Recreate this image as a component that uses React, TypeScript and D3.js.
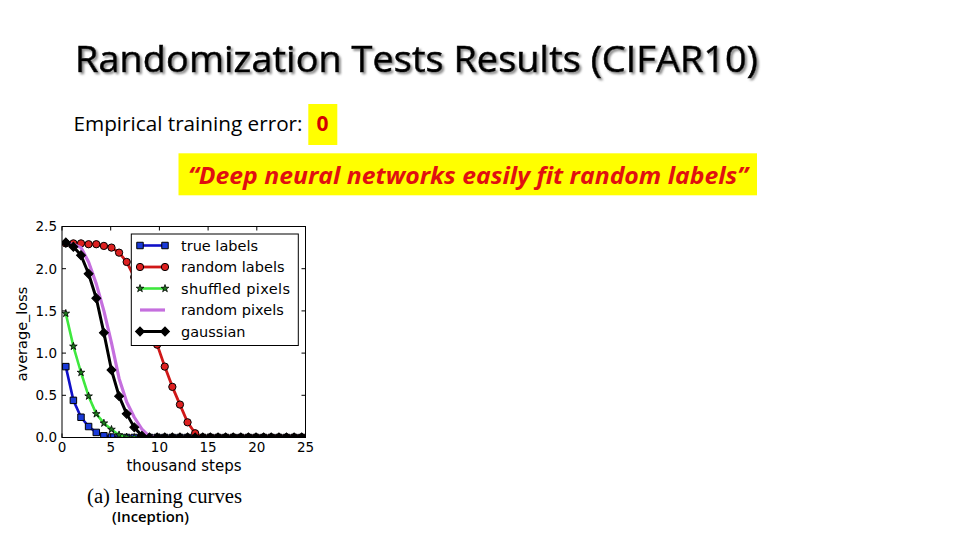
import React from "react";
import * as d3 from "d3";

// ---- data ----
const X_STEPS = [
  0.39, 1.17, 1.95, 2.73, 3.52, 4.3, 5.08, 5.86, 6.64, 7.42, 8.2, 8.98, 9.77, 10.55, 11.33, 12.11,
  12.89, 13.67, 14.45, 15.23, 16.02, 16.8, 17.58, 18.36, 19.14, 19.92, 20.7, 21.48, 22.27, 23.05, 23.83, 24.61,
];
const TRUE_LABELS = [
  0.84, 0.44, 0.24, 0.13, 0.06, 0.02, 0.005, 0.001, 0, 0, 0, 0, 0, 0, 0, 0,
  0, 0, 0, 0, 0, 0, 0, 0, 0, 0, 0, 0, 0, 0, 0, 0,
];
const RANDOM_LABELS = [
  2.3, 2.3, 2.3, 2.29, 2.29, 2.27, 2.25, 2.19, 2.08, 1.9, 1.65, 1.38, 1.1, 0.84, 0.6, 0.39,
  0.18, 0.05, 0.0, 0, 0, 0, 0, 0, 0, 0, 0, 0, 0, 0, 0, 0,
];
const SHUFFLED_PIXELS = [
  1.47, 1.08, 0.77, 0.49, 0.28, 0.17, 0.095, 0.03, 0.005, 0, 0, 0, 0, 0, 0, 0,
  0, 0, 0, 0, 0, 0, 0, 0, 0, 0, 0, 0, 0, 0, 0, 0,
];
const RANDOM_PIXELS = [
  2.3, 2.29, 2.25, 2.08, 1.82, 1.5, 1.12, 0.7, 0.42, 0.24, 0.1, 0.01, 0, 0, 0, 0,
  0, 0, 0, 0, 0, 0, 0, 0, 0, 0, 0, 0, 0, 0, 0, 0,
];
const GAUSSIAN = [
  2.31, 2.26, 2.16, 1.94, 1.65, 1.24, 0.8, 0.49, 0.28, 0.12, 0.02, 0, 0, 0, 0, 0,
  0, 0, 0, 0, 0, 0, 0, 0, 0, 0, 0, 0, 0, 0, 0, 0,
];
const SERIES_NAMES = ["true labels", "random labels", "shuffled pixels", "random pixels", "gaussian"];
const X_TICKS = [0, 5, 10, 15, 20, 25];
const Y_TICKS = [0, 0.5, 1.0, 1.5, 2.0, 2.5];

const TITLE = "Randomization Tests Results (CIFAR10)";
const SUBTITLE = "Empirical training error:";
const ZERO = "0";
const QUOTE = "\u201CDeep neural networks easily fit random labels\u201D";
const X_LABEL = "thousand steps";
const Y_LABEL = "average_loss";
const CAPTION = "(a) learning curves";
const MODEL = "(Inception)";

// ---- styles ----
const styles = [
  { values: TRUE_LABELS, color: "#1010c8", marker: "square", fill: "#1a3ad8", size: 42, lw: 2.6 },
  { values: RANDOM_LABELS, color: "#d01818", marker: "circle", fill: "#dd2020", size: 42, lw: 2.8 },
  { values: SHUFFLED_PIXELS, color: "#3ee83e", marker: "star", fill: "#1e7a1e", size: 18, lw: 2.6 },
  { values: RANDOM_PIXELS, color: "#c56fde", marker: "none", fill: "none", size: 0, lw: 3.2 },
  { values: GAUSSIAN, color: "#000000", marker: "diamond", fill: "#000000", size: 40, lw: 3 },
];

const PLOT = { left: 62, right: 305.5, top: 226.5, bottom: 437.5 };
const x = d3.scaleLinear().domain([0, 25]).range([PLOT.left, PLOT.right]);
const y = d3.scaleLinear().domain([0, 2.5]).range([PLOT.bottom, PLOT.top]);

const CAL = "'Open Sans', 'Noto Sans', Lato, sans-serif";
const MPL = "'DejaVu Sans', sans-serif";

function markerPath(kind: string, size: number): string | null {
  if (kind === "square") return d3.symbol().type(d3.symbolSquare).size(size)();
  if (kind === "circle") return d3.symbol().type(d3.symbolCircle).size(size)();
  if (kind === "star") return d3.symbol().type(d3.symbolStar).size(size)();
  if (kind === "diamond") return d3.symbol().type(d3.symbolSquare).size(size)();
  return null;
}

function Marker({ kind, size, fill, cx, cy }: any) {
  const p = markerPath(kind, size);
  if (!p) return null;
  const rot = kind === "diamond" ? " rotate(45)" : "";
  return (
    <path
      d={p}
      transform={`translate(${cx},${cy})${rot}`}
      fill={fill}
      stroke="#000"
      strokeWidth={kind === "star" ? 0.8 : 1}
    />
  );
}

export default function App() {
  const line = d3
    .line<number>()
    .x((_, i) => x(X_STEPS[i]))
    .y((v) => y(v))
    .curve(d3.curveLinear);

  const legendRows = SERIES_NAMES.map((name, i) => ({ name, st: styles[i], cy: 245.5 + i * 21.5 }));

  return (
    <svg
      width={960}
      height={540}
      style={{ position: "absolute", left: 0, top: 0, background: "#fff" }}
      xmlns="http://www.w3.org/2000/svg"
    >
      <defs>
        <filter id="tshadow" x="-5%" y="-20%" width="110%" height="150%">
          <feDropShadow dx={2} dy={2} stdDeviation={0.8} floodColor="#808080" floodOpacity={0.9} />
        </filter>
        <clipPath id="plotclip">
          <rect x={PLOT.left} y={PLOT.top} width={PLOT.right - PLOT.left} height={PLOT.bottom - PLOT.top} />
        </clipPath>
      </defs>
      <rect x={0} y={0} width={960} height={540} fill="#fff" />

      {/* title with shadow */}
      <text
        x={75}
        y={71.5}
        fontFamily={CAL}
        fontSize={37}
        fill="#000"
        stroke="#000"
        strokeWidth={0.6}
        filter="url(#tshadow)"
        textLength={683}
        lengthAdjust="spacingAndGlyphs"
      >
        {TITLE}
      </text>

      <text x={73.5} y={130.5} fontFamily={CAL} fontSize={20} fill="#000" textLength={229} lengthAdjust="spacingAndGlyphs">
        {SUBTITLE}
      </text>
      <rect x={308.3} y={104} width={29} height={41} fill="#ffff00" />
      <text x={316.5} y={131} fontFamily={CAL} fontSize={22} fontWeight="bold" fill="#d40000" textLength={12} lengthAdjust="spacingAndGlyphs">
        {ZERO}
      </text>

      <rect x={178.5} y={153.3} width={578.5} height={42} fill="#ffff00" />
      <text x={188} y={183.5} fontFamily={CAL} fontSize={24} fontWeight="bold" fontStyle="italic" fill="#e01010" textLength={560} lengthAdjust="spacingAndGlyphs">
        {QUOTE}
      </text>

      {/* chart */}
      <g clipPath="url(#plotclip)">
        {styles.map((st, si) => (
          <g key={si}>
            <path d={line(st.values) || ""} fill="none" stroke={st.color} strokeWidth={st.lw} strokeLinejoin="round" />
            {st.marker !== "none" &&
              st.values.map((v, i) => (
                <Marker key={i} kind={st.marker} size={st.size} fill={st.fill} cx={x(X_STEPS[i])} cy={y(v)} />
              ))}
          </g>
        ))}
      </g>

      {/* frame */}
      <rect x={PLOT.left} y={PLOT.top} width={PLOT.right - PLOT.left} height={PLOT.bottom - PLOT.top} fill="none" stroke="#000" strokeWidth={1} />
      {X_TICKS.map((t) => (
        <g key={"xt" + t}>
          <line x1={x(t)} x2={x(t)} y1={PLOT.bottom} y2={PLOT.bottom - 4} stroke="#000" />
          <line x1={x(t)} x2={x(t)} y1={PLOT.top} y2={PLOT.top + 4} stroke="#000" />
          <text x={x(t)} y={451.5} textAnchor="middle" fontFamily={MPL} fontSize={13.5} fill="#000">
            {String(t)}
          </text>
        </g>
      ))}
      {Y_TICKS.map((t) => (
        <g key={"yt" + t}>
          <line x1={PLOT.left} x2={PLOT.left + 4} y1={y(t)} y2={y(t)} stroke="#000" />
          <line x1={PLOT.right} x2={PLOT.right - 4} y1={y(t)} y2={y(t)} stroke="#000" />
          <text x={57} y={y(t) + 4.8} textAnchor="end" fontFamily={MPL} fontSize={13.5} fill="#000">
            {t.toFixed(1)}
          </text>
        </g>
      ))}
      <text x={184} y={470.5} textAnchor="middle" fontFamily={MPL} fontSize={15} fill="#000">
        {X_LABEL}
      </text>
      <text
        transform={`translate(27,334) rotate(-90)`}
        textAnchor="middle"
        fontFamily={MPL}
        fontSize={14.5}
        fill="#000"
      >
        {Y_LABEL}
      </text>

      {/* legend */}
      <rect x={131.3} y={234} width={167} height={111.5} fill="#fff" stroke="#000" strokeWidth={1} />
      {legendRows.map((r, i) => (
        <g key={"lg" + i}>
          <line x1={140} x2={165} y1={r.cy} y2={r.cy} stroke={r.st.color} strokeWidth={r.st.lw} />
          {r.st.marker !== "none" && (
            <>
              <Marker kind={r.st.marker} size={r.st.size} fill={r.st.fill} cx={140} cy={r.cy} />
              <Marker kind={r.st.marker} size={r.st.size} fill={r.st.fill} cx={165} cy={r.cy} />
            </>
          )}
          <text x={181} y={r.cy + 5} fontFamily={MPL} fontSize={14.5} fill="#000" textLength={i === 2 ? 109 : undefined}>
            {r.name}
          </text>
        </g>
      ))}

      {/* caption */}
      <text x={87} y={503} fontFamily="'Liberation Serif', 'DejaVu Serif', serif" fontSize={20} fill="#000" textLength={155} lengthAdjust="spacingAndGlyphs">
        {CAPTION}
      </text>
      <text x={112} y={522} fontFamily={CAL} fontSize={14.5} fontWeight="600" fill="#000" textLength={77} lengthAdjust="spacingAndGlyphs">
        {MODEL}
      </text>
    </svg>
  );
}
